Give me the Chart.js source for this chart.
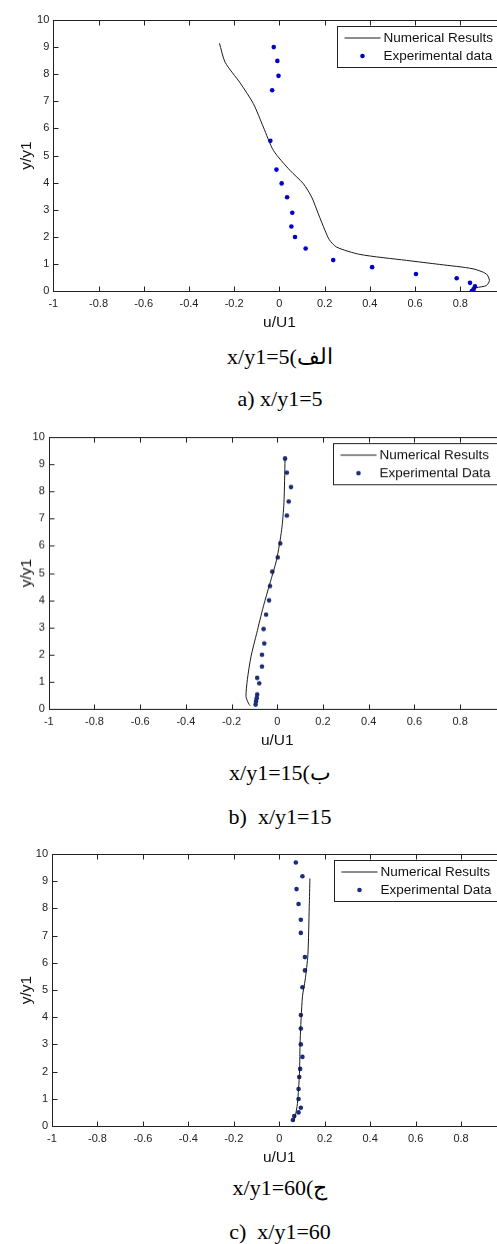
<!DOCTYPE html>
<html>
<head>
<meta charset="utf-8">
<script src="https://cdn.jsdelivr.net/npm/chart.js@4.4.1/dist/chart.umd.min.js"></script>
<style>
  html, body { margin: 0; padding: 0; background: #fff; overflow: hidden; width: 497px; height: 1244px; }
  .plot { position: absolute; left: 0; }
  .cap { position: absolute; left: 0; width: 560px; text-align: center; white-space: nowrap;
         font-family: "Liberation Serif", "Times New Roman", serif; font-size: 22px; line-height: 26px; color: #000; }
</style>
</head>
<body>
<div class="plot" id="w1"><canvas id="c1"></canvas></div>
<div class="cap" dir="rtl" style="top:344px">الف)x/y1=5</div>
<div class="cap" style="top:386px">a) x/y1=5</div>

<div class="plot" id="w2"><canvas id="c2"></canvas></div>
<div class="cap" dir="rtl" style="top:760px">ب)x/y1=15</div>
<div class="cap" style="top:804px">b)&nbsp; x/y1=15</div>

<div class="plot" id="w3"><canvas id="c3"></canvas></div>
<div class="cap" dir="rtl" style="top:1175px">ج)x/y1=60</div>
<div class="cap" style="top:1219px">c)&nbsp; x/y1=60</div>

<script>
// x/y1 = 5
const num5U = [-0.265, -0.240, -0.173, -0.115, -0.071, -0.026, 0.047, 0.106, 0.143, 0.172, 0.202, 0.221, 0.253, 0.356, 0.562, 0.709, 0.856, 0.915, 0.929, 0.915, 0.871, 0.856];
const num5Y = [9.14, 8.44, 7.67, 6.91, 6.05, 5.18, 4.45, 3.96, 3.46, 2.85, 2.23, 1.89, 1.62, 1.35, 1.13, 0.98, 0.82, 0.63, 0.39, 0.20, 0.12, 0.04];
const exp5U = [-0.025, -0.009, -0.004, -0.032, -0.040, -0.013, 0.010, 0.034, 0.057, 0.053, 0.069, 0.116, 0.238, 0.410, 0.604, 0.784, 0.843, 0.865, 0.859, 0.851];
const exp5Y = [9.00, 8.49, 7.94, 7.41, 5.54, 4.48, 3.97, 3.46, 2.89, 2.38, 1.99, 1.57, 1.14, 0.88, 0.63, 0.47, 0.30, 0.17, 0.07, 0.00];

// x/y1 = 15
const num15U = [0.034, 0.029, 0.019, -0.003, -0.032, -0.061, -0.090, -0.115, -0.131, -0.137, -0.127, -0.119];
const num15Y = [9.20, 7.57, 6.59, 5.49, 4.63, 3.77, 2.79, 1.93, 1.08, 0.46, 0.22, 0.12];
const exp15U = [0.034, 0.042, 0.060, 0.050, 0.042, 0.013, 0.002, -0.022, -0.032, -0.036, -0.049, -0.060, -0.057, -0.067, -0.067, -0.088, -0.079, -0.088, -0.090, -0.093, -0.095];
const exp15Y = [9.21, 8.69, 8.16, 7.63, 7.11, 6.09, 5.57, 5.05, 4.52, 3.99, 3.47, 2.94, 2.41, 1.99, 1.56, 1.14, 0.94, 0.53, 0.40, 0.28, 0.16];

// x/y1 = 60
const num60U = [0.135, 0.132, 0.126, 0.114, 0.102, 0.092, 0.089, 0.080, 0.070, 0.063];
const num60Y = [9.10, 8.06, 6.29, 5.37, 4.75, 3.16, 1.94, 0.83, 0.34, 0.16];
const exp60U = [0.073, 0.102, 0.076, 0.085, 0.095, 0.095, 0.113, 0.113, 0.102, 0.095, 0.095, 0.095, 0.102, 0.092, 0.088, 0.085, 0.085, 0.095, 0.085, 0.066, 0.060];
const exp60Y = [9.69, 9.18, 8.71, 8.16, 7.58, 7.10, 6.21, 5.72, 5.10, 4.08, 3.58, 3.00, 2.54, 2.10, 1.80, 1.36, 0.99, 0.67, 0.50, 0.37, 0.22];

const toPts = (u, y) => u.map((v, i) => ({ x: v, y: y[i] }));

// рамка и внутренние засечки как в MATLAB
const framePlugin = {
  id: 'frame',
  beforeDatasetsDraw(chart) {
    const { ctx, chartArea: a, scales } = chart;
    const L = Math.round(a.left) + 0.5, R = Math.round(a.right) + 0.5;
    const T = Math.round(a.top) + 0.5, B = Math.round(a.bottom) + 0.5;
    ctx.save();
    ctx.strokeStyle = '#222';
    ctx.lineWidth = 1;
    ctx.strokeRect(L, T, R - L, B - T);
    ctx.beginPath();
    scales.x.ticks.forEach(t => {
      const px = Math.round(scales.x.getPixelForValue(t.value)) + 0.5;
      ctx.moveTo(px, B); ctx.lineTo(px, B - 5);
      ctx.moveTo(px, T); ctx.lineTo(px, T + 5);
    });
    scales.y.ticks.forEach(t => {
      const py = Math.round(scales.y.getPixelForValue(t.value)) + 0.5;
      ctx.moveTo(L, py); ctx.lineTo(L + 5, py);
      ctx.moveTo(R, py); ctx.lineTo(R - 5, py);
    });
    ctx.stroke();
    ctx.restore();
  }
};

// легенда в правом верхнем углу
const boxLegendPlugin = {
  id: 'boxLegend',
  afterDraw(chart, args, opts) {
    const { ctx, chartArea: a } = chart;
    const x0 = Math.round(a.left + opts.dx) + 0.5, y0 = Math.round(a.top + opts.dy) + 0.5;
    ctx.save();
    ctx.fillStyle = '#fff';
    ctx.fillRect(x0, y0, 190, 41);
    ctx.strokeStyle = '#222';
    ctx.lineWidth = 1;
    ctx.strokeRect(x0, y0, 190, 41);
    const ds = chart.data.datasets;
    ctx.font = '13.5px "Liberation Sans", Arial, sans-serif';
    ctx.textBaseline = 'middle';
    ctx.fillStyle = '#111';
    // строка 1 — линия
    ctx.beginPath();
    ctx.strokeStyle = ds[0].borderColor;
    ctx.moveTo(x0 + 7, y0 + 11.5); ctx.lineTo(x0 + 43, y0 + 11.5);
    ctx.stroke();
    ctx.fillText(ds[0].label, x0 + 46, y0 + 11.5);
    // строка 2 — точка
    ctx.beginPath();
    ctx.fillStyle = ds[1].backgroundColor;
    ctx.arc(x0 + 25, y0 + 29.5, 2.3, 0, Math.PI * 2);
    ctx.fill();
    ctx.fillStyle = '#111';
    ctx.fillText(ds[1].label, x0 + 46, y0 + 29.5);
    ctx.restore();
  }
};

function makePlot(id, wrapId, geo, numPts, expPts, expLabel, dotColor, legendDx) {
  const W = 520;
  const H = (geo.bottom - geo.top) + 20 + 42;
  const wrap = document.getElementById(wrapId);
  wrap.style.top = (geo.top - 20) + 'px';
  const cv = document.getElementById(id);
  cv.width = W; cv.height = H;
  cv.style.width = W + 'px'; cv.style.height = H + 'px';

  const tickFont = { family: '"Liberation Sans", Arial, sans-serif', size: 11 };
  const titleFont = { family: '"Liberation Sans", Arial, sans-serif', size: 15.5 };

  return new Chart(cv.getContext('2d'), {
    type: 'scatter',
    data: {
      datasets: [{
        label: 'Numerical Results',
        data: numPts,
        showLine: true,
        borderColor: '#1a1a1a',
        backgroundColor: '#1a1a1a',
        borderWidth: 1,
        pointRadius: 0,
        tension: 0.25
      }, {
        label: expLabel,
        data: expPts,
        showLine: false,
        pointRadius: 2.3,
        pointBorderWidth: 0,
        backgroundColor: dotColor,
        borderColor: dotColor
      }]
    },
    options: {
      responsive: false,
      animation: false,
      devicePixelRatio: 1,
      layout: { padding: { top: 20, left: 0, right: W - geo.right, bottom: 0 } },
      plugins: {
        legend: { display: false },
        tooltip: { enabled: false },
        boxLegend: { dx: legendDx, dy: 6 }
      },
      scales: {
        x: {
          type: 'linear',
          min: -1, max: 1,
          afterFit: s => { s.height = 42; },
          grid: { display: false, drawTicks: false },
          border: { display: false },
          ticks: {
            stepSize: 0.2, padding: 6, color: '#222', font: tickFont, maxRotation: 0,
            callback: v => String(Math.round(v * 10) / 10)
          },
          title: { display: true, text: 'u/U1', color: '#111', font: titleFont, padding: { top: 1, bottom: 1 } }
        },
        y: {
          type: 'linear',
          min: 0, max: 10,
          afterFit: s => { s.width = geo.left; },
          grid: { display: false, drawTicks: false },
          border: { display: false },
          ticks: { stepSize: 1, padding: 4, color: '#222', font: tickFont },
          title: { display: true, text: 'y/y1', color: '#111', font: titleFont, padding: { top: 17, bottom: 0 } }
        }
      }
    },
    plugins: [framePlugin, boxLegendPlugin]
  });
}

makePlot('c1', 'w1', { top: 19.5, bottom: 290.5, left: 53.3, right: 505.5 },
  toPts(num5U, num5Y), toPts(exp5U, exp5Y), 'Experimental data', '#0000cc', 283.4);
makePlot('c2', 'w2', { top: 437.3, bottom: 709.3, left: 48.8, right: 505.8 },
  toPts(num15U, num15Y), toPts(exp15U, exp15Y), 'Experimental Data', '#1c2e78', 283.9);
makePlot('c3', 'w3', { top: 854, bottom: 1126, left: 52, right: 506.5 },
  toPts(num60U, num60Y), toPts(exp60U, exp60Y), 'Experimental Data', '#1c2e78', 282);
</script>
</body>
</html>
